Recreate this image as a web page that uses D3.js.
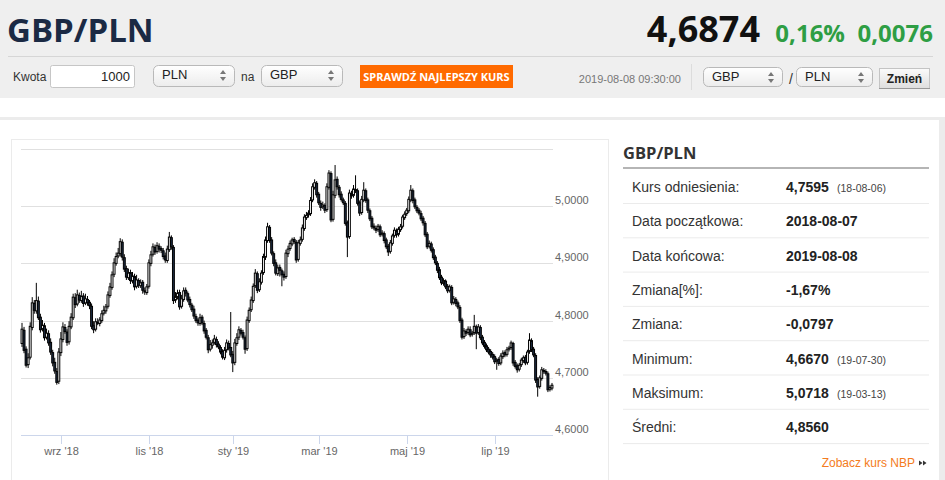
<!DOCTYPE html>
<html>
<head>
<meta charset="utf-8">
<script src="https://cdn.jsdelivr.net/npm/d3@7"></script>
<style>
  html, body { margin: 0; padding: 0; background: #fff; }
  svg { display: block; }
</style>
</head>
<body>
<script>
// daily GBP/PLN candles, 2018-08-07 .. 2019-08-08
const openV = [
  4.760,4.783,4.750,4.723,4.736,4.788,4.830,4.817,4.834,4.806,
  4.785,4.791,4.771,4.777,4.762,4.744,4.727,4.711,4.694,4.744,
  4.767,4.788,4.780,4.763,4.789,4.805,4.840,4.829,4.844,4.835,
  4.843,4.831,4.837,4.832,4.825,4.791,4.785,4.797,4.795,4.800,
  4.813,4.817,4.825,4.844,4.858,4.881,4.900,4.913,4.917,4.937,
  4.910,4.891,4.875,4.884,4.869,4.877,4.860,4.870,4.861,4.867,
  4.852,4.849,4.860,4.900,4.916,4.928,4.921,4.930,4.926,4.922,
  4.913,4.905,4.924,4.945,4.928,4.836,4.841,4.849,4.825,4.837,
  4.853,4.847,4.837,4.827,4.820,4.807,4.801,4.795,4.806,4.795,
  4.783,4.770,4.750,4.757,4.762,4.767,4.759,4.753,4.746,4.735,
  4.749,4.760,4.753,4.741,4.727,4.760,4.771,4.783,4.779,4.770,
  4.751,4.800,4.819,4.835,4.861,4.882,4.854,4.867,4.884,4.911,
  4.940,4.963,4.941,4.917,4.901,4.882,4.893,4.887,4.881,4.877,
  4.917,4.926,4.934,4.942,4.937,4.907,4.935,4.942,4.961,4.980,
  4.985,4.987,5.011,5.033,5.040,5.021,5.005,4.999,5.001,4.994,
  5.033,5.057,4.977,5.019,5.047,5.033,5.021,5.011,5.005,4.971,
  4.947,5.022,5.019,5.029,5.027,5.006,4.989,5.011,5.027,5.011,
  4.992,4.979,4.965,4.961,4.959,4.964,4.951,4.952,4.941,4.930,
  4.921,4.935,4.949,4.957,4.951,4.959,4.965,4.980,4.987,4.992,
  5.011,5.027,5.011,4.998,4.993,4.987,4.979,4.970,4.951,4.930,
  4.934,4.924,4.911,4.900,4.889,4.876,4.865,4.869,4.860,4.853,
  4.858,4.832,4.837,4.831,4.823,4.801,4.772,4.781,4.779,4.784,
  4.776,4.779,4.789,4.779,4.788,4.771,4.762,4.756,4.750,4.746,
  4.741,4.737,4.729,4.732,4.726,4.737,4.744,4.741,4.750,4.753,
  4.760,4.727,4.721,4.715,4.723,4.730,4.736,4.727,4.746,4.765,
  4.750,4.739,4.697,4.685,4.699,4.713,4.711,4.707,4.680,4.682
];
const highV = [
  4.796,4.789,4.755,4.743,4.797,4.841,4.836,4.866,4.842,4.812,
  4.801,4.796,4.786,4.783,4.769,4.749,4.735,4.717,4.752,4.780,
  4.797,4.794,4.785,4.799,4.813,4.847,4.848,4.854,4.849,4.852,
  4.848,4.847,4.843,4.836,4.830,4.799,4.804,4.804,4.806,4.818,
  4.826,4.829,4.851,4.866,4.886,4.909,4.919,4.927,4.944,4.942,
  4.916,4.896,4.891,4.889,4.885,4.882,4.880,4.874,4.872,4.871,
  4.858,4.864,4.907,4.922,4.935,4.933,4.937,4.935,4.930,4.927,
  4.919,4.931,4.955,4.949,4.932,4.850,4.854,4.854,4.845,4.858,
  4.858,4.851,4.842,4.831,4.826,4.812,4.805,4.812,4.810,4.800,
  4.787,4.775,4.766,4.767,4.775,4.772,4.764,4.757,4.750,4.754,
  4.767,4.765,4.815,4.747,4.768,4.778,4.790,4.787,4.784,4.774,
  4.807,4.823,4.842,4.865,4.890,4.886,4.874,4.888,4.917,4.947,
  4.971,4.967,4.946,4.921,4.907,4.898,4.898,4.891,4.886,4.924,
  4.931,4.940,4.945,4.946,4.941,4.941,4.947,4.968,4.986,4.990,
  4.993,5.016,5.040,5.047,5.044,5.025,5.010,5.008,5.005,5.040,
  5.063,5.061,5.027,5.072,5.052,5.037,5.026,5.015,5.009,4.975,
  5.029,5.027,5.037,5.054,5.031,5.010,5.018,5.042,5.031,5.015,
  4.996,4.983,4.970,4.966,4.969,4.968,4.958,4.956,4.945,4.934,
  4.941,4.952,4.963,4.961,4.964,4.969,4.985,4.991,4.997,5.017,
  5.037,5.031,5.015,5.002,4.997,4.992,4.983,4.974,4.955,4.940,
  4.938,4.928,4.915,4.904,4.894,4.880,4.874,4.872,4.864,4.863,
  4.862,4.843,4.841,4.835,4.827,4.805,4.787,4.785,4.790,4.790,
  4.782,4.810,4.793,4.794,4.792,4.775,4.766,4.760,4.754,4.750,
  4.745,4.741,4.735,4.736,4.743,4.748,4.748,4.754,4.756,4.765,
  4.763,4.731,4.725,4.726,4.735,4.739,4.740,4.749,4.778,4.769,
  4.754,4.743,4.701,4.704,4.719,4.717,4.715,4.711,4.687,4.691
];
const lowV = [
  4.754,4.743,4.718,4.717,4.732,4.783,4.812,4.812,4.801,4.779,
  4.781,4.765,4.767,4.756,4.740,4.720,4.707,4.688,4.689,4.738,
  4.762,4.777,4.756,4.758,4.785,4.801,4.822,4.825,4.831,4.831,
  4.824,4.827,4.826,4.820,4.785,4.778,4.781,4.792,4.790,4.796,
  4.809,4.812,4.821,4.840,4.854,4.876,4.896,4.909,4.912,4.905,
  4.885,4.871,4.871,4.864,4.865,4.853,4.856,4.857,4.857,4.847,
  4.845,4.845,4.856,4.895,4.912,4.915,4.917,4.919,4.918,4.907,
  4.901,4.901,4.920,4.924,4.829,4.831,4.837,4.819,4.821,4.833,
  4.842,4.832,4.823,4.815,4.803,4.796,4.791,4.791,4.792,4.777,
  4.767,4.743,4.746,4.751,4.758,4.753,4.750,4.741,4.732,4.731,
  4.744,4.748,4.736,4.710,4.722,4.756,4.766,4.774,4.767,4.742,
  4.747,4.796,4.815,4.831,4.857,4.848,4.850,4.863,4.880,4.906,
  4.936,4.936,4.914,4.895,4.879,4.878,4.877,4.860,4.870,4.873,
  4.911,4.922,4.930,4.934,4.901,4.903,4.931,4.938,4.957,4.976,
  4.980,4.983,5.007,5.029,5.015,5.002,4.992,4.995,4.988,4.990,
  5.029,4.972,4.973,5.014,5.029,5.015,5.008,5.002,4.966,4.911,
  4.943,5.013,5.015,5.023,5.001,4.983,4.985,5.007,5.006,4.988,
  4.974,4.960,4.958,4.953,4.955,4.946,4.947,4.935,4.925,4.913,
  4.917,4.931,4.945,4.945,4.947,4.955,4.961,4.976,4.983,4.988,
  5.007,5.005,4.995,4.988,4.984,4.974,4.966,4.946,4.925,4.926,
  4.919,4.906,4.897,4.883,4.871,4.862,4.861,4.855,4.848,4.849,
  4.827,4.828,4.825,4.820,4.796,4.767,4.768,4.773,4.775,4.771,
  4.772,4.775,4.750,4.775,4.766,4.757,4.751,4.745,4.741,4.735,
  4.732,4.724,4.714,4.721,4.722,4.733,4.736,4.737,4.746,4.749,
  4.721,4.716,4.709,4.711,4.719,4.726,4.722,4.723,4.742,4.745,
  4.736,4.691,4.667,4.681,4.695,4.707,4.704,4.675,4.676,4.678
];
const closeV = [
  4.785,4.748,4.722,4.735,4.790,4.831,4.818,4.835,4.805,4.784,
  4.792,4.770,4.778,4.761,4.745,4.726,4.712,4.692,4.745,4.768,
  4.789,4.781,4.762,4.790,4.806,4.841,4.828,4.845,4.836,4.842,
  4.830,4.838,4.831,4.826,4.790,4.784,4.798,4.796,4.801,4.812,
  4.818,4.824,4.845,4.859,4.880,4.901,4.912,4.918,4.938,4.911,
  4.890,4.876,4.883,4.870,4.878,4.859,4.871,4.862,4.866,4.853,
  4.850,4.859,4.901,4.915,4.929,4.920,4.931,4.925,4.923,4.912,
  4.906,4.925,4.946,4.929,4.835,4.842,4.848,4.824,4.838,4.852,
  4.848,4.836,4.828,4.819,4.808,4.800,4.796,4.805,4.796,4.782,
  4.771,4.749,4.758,4.761,4.768,4.758,4.754,4.745,4.736,4.748,
  4.761,4.752,4.740,4.726,4.761,4.770,4.784,4.778,4.771,4.750,
  4.801,4.818,4.836,4.860,4.883,4.853,4.868,4.883,4.912,4.941,
  4.964,4.940,4.918,4.900,4.883,4.892,4.888,4.880,4.876,4.918,
  4.925,4.935,4.941,4.938,4.906,4.936,4.941,4.962,4.981,4.984,
  4.988,5.010,5.034,5.041,5.020,5.006,4.998,5.002,4.993,5.034,
  5.058,4.976,5.020,5.046,5.034,5.020,5.012,5.006,4.970,4.946,
  5.023,5.018,5.030,5.028,5.005,4.988,5.012,5.028,5.010,4.993,
  4.978,4.964,4.962,4.958,4.965,4.950,4.953,4.940,4.929,4.920,
  4.936,4.948,4.958,4.950,4.960,4.964,4.981,4.986,4.993,5.012,
  5.028,5.010,4.999,4.992,4.988,4.978,4.971,4.950,4.929,4.935,
  4.923,4.910,4.901,4.888,4.875,4.866,4.870,4.859,4.852,4.859,
  4.831,4.838,4.830,4.824,4.800,4.771,4.782,4.778,4.785,4.775,
  4.778,4.790,4.778,4.789,4.770,4.761,4.755,4.749,4.745,4.740,
  4.736,4.728,4.731,4.725,4.738,4.743,4.740,4.749,4.752,4.761,
  4.726,4.720,4.714,4.722,4.731,4.735,4.726,4.745,4.766,4.749,
  4.740,4.696,4.684,4.700,4.714,4.712,4.708,4.679,4.683,4.687
];

const firstDay = "2018-08-07";
const lastDay = "2019-08-08";
const holidays = ["2018-12-25", "2018-12-26", "2019-01-01"];

const tickDates = ["2018-09-03", "2018-11-01", "2019-01-02", "2019-03-01", "2019-05-01", "2019-07-01"];
const tickLabels = ["wrz '18", "lis '18", "sty '19", "mar '19", "maj '19", "lip '19"];
const yTicks = [4.6, 4.7, 4.8, 4.9, 5.0, 5.1];

const statLabels = ["Kurs odniesienia:", "Data początkowa:", "Data końcowa:", "Zmiana[%]:", "Zmiana:", "Minimum:", "Maksimum:", "Średni:"];
const statValues = ["4,7595", "2018-08-07", "2019-08-08", "-1,67%", "-0,0797", "4,6670", "5,0718", "4,8560"];
const statNotes = ["(18-08-06)", "", "", "", "", "(19-07-30)", "(19-03-13)", ""];

// trading days (weekdays, minus the few days the market was shut)
const fmt = d3.utcFormat("%Y-%m-%d");
const dates = d3.utcDays(new Date(firstDay), d3.utcDay.offset(new Date(lastDay), 1))
  .filter(d => d.getUTCDay() !== 0 && d.getUTCDay() !== 6)
  .map(fmt)
  .filter(d => !holidays.includes(d));

const candles = closeV.map((c, i) => ({ i, date: dates[i], o: openV[i], h: highV[i], l: lowV[i], c }));

const W = 945, H = 480;
const svg = d3.select("body").append("svg").attr("width", W).attr("height", H);

const sans = "'Liberation Sans', Arial, sans-serif";
const open = "'Open Sans', sans-serif";

// ---------- header ----------
svg.append("rect").attr("width", W).attr("height", 98).attr("fill", "#efefef");
svg.append("text").attr("x", 7).attr("y", 42)
  .attr("font-family", open).attr("font-weight", 700).attr("font-size", 33)
  .attr("fill", "#1b2a44").text("GBP/PLN");

svg.append("text").attr("x", 760).attr("y", 42).attr("text-anchor", "end")
  .attr("font-family", open).attr("font-weight", 700).attr("font-size", 36)
  .attr("fill", "#111").text("4,6874");
svg.append("text").attr("x", 845).attr("y", 42).attr("text-anchor", "end")
  .attr("font-family", open).attr("font-weight", 700).attr("font-size", 24)
  .attr("fill", "#2e9e44").text("0,16%");
svg.append("text").attr("x", 933).attr("y", 42).attr("text-anchor", "end")
  .attr("font-family", open).attr("font-weight", 700).attr("font-size", 24)
  .attr("fill", "#2e9e44").text("0,0076");

svg.append("line").attr("x1", 8).attr("x2", 933).attr("y1", 56.5).attr("y2", 56.5)
  .attr("stroke", "#d6d6d6");

const defs = svg.append("defs");
const selGrad = defs.append("linearGradient").attr("id", "selGrad").attr("x1", 0).attr("x2", 0).attr("y1", 0).attr("y2", 1);
selGrad.append("stop").attr("offset", "0%").attr("stop-color", "#ffffff");
selGrad.append("stop").attr("offset", "100%").attr("stop-color", "#ececec");
const btnGrad = defs.append("linearGradient").attr("id", "btnGrad").attr("x1", 0).attr("x2", 0).attr("y1", 0).attr("y2", 1);
btnGrad.append("stop").attr("offset", "0%").attr("stop-color", "#fbfbfb");
btnGrad.append("stop").attr("offset", "100%").attr("stop-color", "#dedede");

function label(x, y, txt, size, color, weight, anchor) {
  return svg.append("text").attr("x", x).attr("y", y)
    .attr("font-family", sans).attr("font-size", size)
    .attr("font-weight", weight || 400).attr("fill", color || "#333")
    .attr("text-anchor", anchor || "start").text(txt);
}

function selectBox(x, w, y, h, txt) {
  svg.append("rect").attr("x", x + 0.5).attr("y", y + 0.5).attr("width", w).attr("height", h)
    .attr("rx", 5).attr("fill", "url(#selGrad)").attr("stroke", "#b9b9b9");
  label(x + 9, y + 14, txt, 13, "#222");
  const ax = x + w - 11;
  svg.append("path").attr("d", `M${ax - 3},${y + 9} L${ax},${y + 5} L${ax + 3},${y + 9} Z`).attr("fill", "#777");
  svg.append("path").attr("d", `M${ax - 3},${y + 12} L${ax},${y + 16} L${ax + 3},${y + 12} Z`).attr("fill", "#777");
}

label(13, 81, "Kwota", 12, "#333");
svg.append("rect").attr("x", 50.5).attr("y", 65.5).attr("width", 84).attr("height", 22)
  .attr("rx", 2).attr("fill", "#fff").attr("stroke", "#c6c6c6");
label(130, 81, "1000", 13, "#222", 400, "end");
selectBox(153, 81, 65, 21, "PLN");
label(241, 81, "na", 12, "#333");
selectBox(261, 81, 65, 21, "GBP");

svg.append("rect").attr("x", 360).attr("y", 65).attr("width", 153).attr("height", 23).attr("fill", "#ff6a00");
svg.append("text").attr("x", 436.5).attr("y", 80.5).attr("text-anchor", "middle")
  .attr("font-family", open).attr("font-weight", 700).attr("font-size", 11)
  .attr("fill", "#fff").text("SPRAWDŹ NAJLEPSZY KURS");

label(681, 83, "2019-08-08 09:30:00", 11, "#777", 400, "end");
svg.append("line").attr("x1", 691.5).attr("x2", 691.5).attr("y1", 64).attr("y2", 90).attr("stroke", "#dcdcdc");
selectBox(703, 79, 67, 19, "GBP");
label(789, 84, "/", 14, "#333");
selectBox(796, 76, 67, 19, "PLN");
svg.append("rect").attr("x", 879.5).attr("y", 68.5).attr("width", 50).attr("height", 20)
  .attr("fill", "url(#btnGrad)").attr("stroke", "#c4c4c4");
svg.append("line").attr("x1", 879).attr("x2", 930).attr("y1", 88.5).attr("y2", 88.5).attr("stroke", "#999");
label(904.5, 83, "Zmień", 12, "#222", 700, "middle");

// ---------- panel frame ----------
svg.append("rect").attr("x", 0).attr("y", 117).attr("width", 942).attr("height", 3).attr("fill", "#ececec");
svg.append("rect").attr("x", 939).attr("y", 117).attr("width", 6).attr("height", H - 117).attr("fill", "#ececec");
svg.append("rect").attr("x", 11.5).attr("y", 139.5).attr("width", 597).attr("height", 360)
  .attr("fill", "#fff").attr("stroke", "#ebebeb");

// ---------- candlestick chart ----------
const x = d3.scaleLinear().domain([0, candles.length - 1]).range([22, 552]);
const y = d3.scaleLinear().domain([4.6, 5.1]).range([435, 149]);

const grid = svg.append("g");
grid.selectAll("line").data(yTicks.slice(1)).join("line")
  .attr("x1", 21).attr("x2", 553)
  .attr("y1", d => Math.round(y(d)) + 0.5).attr("y2", d => Math.round(y(d)) + 0.5)
  .attr("stroke", "#e0e0e0");

const yFmt = d => d3.format(".4f")(d).replace(".", ",");
svg.append("g").selectAll("text").data(yTicks.slice(0, -1)).join("text")
  .attr("x", 555).attr("y", d => y(d) - 2)
  .attr("font-family", sans).attr("font-size", 11).attr("fill", "#666")
  .text(yFmt);

// x axis
svg.append("line").attr("x1", 21).attr("x2", 553).attr("y1", 435.5).attr("y2", 435.5).attr("stroke", "#ccd6eb");
const ticks = tickDates.map((d, k) => ({ pos: x(dates.indexOf(d)), label: tickLabels[k] }));
const xt = svg.append("g").selectAll("g").data(ticks).join("g")
  .attr("transform", d => `translate(${Math.round(d.pos) + 0.5},0)`);
xt.append("line").attr("y1", 435).attr("y2", 444).attr("stroke", "#ccd6eb");
xt.append("text").attr("y", 455).attr("text-anchor", "middle")
  .attr("font-family", sans).attr("font-size", 11).attr("fill", "#666")
  .text(d => d.label);

const bw = 1.9;
const cg = svg.append("g").selectAll("g").data(candles).join("g");
cg.append("line")
  .attr("x1", d => x(d.i)).attr("x2", d => x(d.i))
  .attr("y1", d => y(d.h)).attr("y2", d => y(d.l))
  .attr("stroke", "#000").attr("stroke-width", 1);
cg.append("rect")
  .attr("x", d => x(d.i) - bw / 2)
  .attr("y", d => y(Math.max(d.o, d.c)))
  .attr("width", bw)
  .attr("height", d => Math.max(1, Math.abs(y(d.o) - y(d.c))))
  .attr("fill", d => d.c >= d.o ? "#fff" : "#1b2a40")
  .attr("stroke", "#000").attr("stroke-width", 1);

// ---------- stats table ----------
svg.append("text").attr("x", 623).attr("y", 159)
  .attr("font-family", open).attr("font-weight", 700).attr("font-size", 16.5)
  .attr("fill", "#333").text("GBP/PLN");
svg.append("rect").attr("x", 623).attr("y", 167).attr("width", 306).attr("height", 2).attr("fill", "#b5b5b5");

const rowH = 34.3;
const rows = svg.append("g").selectAll("g").data(statLabels).join("g")
  .attr("transform", (d, k) => `translate(0,${169 + k * rowH})`);
rows.append("line").attr("x1", 623).attr("x2", 929)
  .attr("y1", Math.round(rowH) + 0.5).attr("y2", Math.round(rowH) + 0.5).attr("stroke", "#ebebeb");
rows.append("text").attr("x", 632).attr("y", 23)
  .attr("font-family", sans).attr("font-size", 14).attr("fill", "#333").text(d => d);
rows.append("text").attr("x", 786).attr("y", 23)
  .attr("font-family", sans).attr("font-size", 14).attr("font-weight", 700).attr("fill", "#222")
  .text((d, k) => statValues[k]);
rows.append("text").attr("x", 837).attr("y", 23)
  .attr("font-family", sans).attr("font-size", 10.5).attr("fill", "#444")
  .text((d, k) => statNotes[k]);

label(915, 467, "Zobacz kurs NBP", 12, "#f47b20", 400, "end");
svg.append("path").attr("d", "M919,460.5 L922.5,463 L919,465.5 Z M923,460.5 L926.5,463 L923,465.5 Z").attr("fill", "#333");
</script>
</body>
</html>
